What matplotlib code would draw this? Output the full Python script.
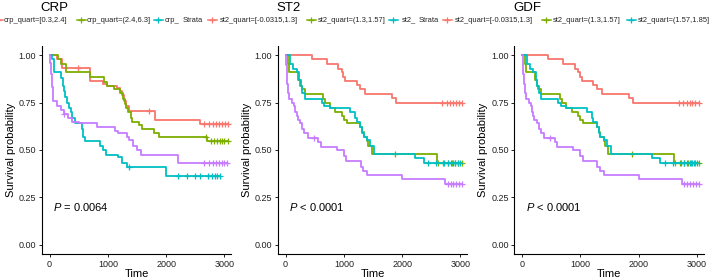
import numpy as np
import matplotlib.pyplot as plt
from matplotlib.lines import Line2D

plt.rcParams['font.family'] = ['Liberation Sans', 'DejaVu Sans']
plt.rcParams['mathtext.fontset'] = 'custom'
plt.rcParams['mathtext.it'] = 'Liberation Sans:italic'
plt.rcParams['mathtext.rm'] = 'Liberation Sans'

RED, GREEN, CYAN, PURPLE = '#F8766D', '#7CAE00', '#00BFC4', '#C77CFF'
W, H = 709, 280

# ---- CRP panel ----
crp_red_t = [0, 130, 210, 690, 920, 980, 1150, 1210, 1250, 1280, 1310, 1360, 1800, 2580]
crp_red_s = [1.0, 0.98, 0.935, 0.865, 0.85, 0.84, 0.825, 0.81, 0.79, 0.76, 0.73, 0.705, 0.66, 0.637]
crp_red_c = [495, 1700, 2640, 2730, 2800, 2860, 2910, 2960, 3010, 3060]

crp_green_t = [0, 150, 200, 280, 700, 930, 980, 1100, 1200, 1260, 1290, 1310, 1340,
               1390, 1420, 1530, 1580, 1790, 1880, 2700]
crp_green_s = [1.0, 0.98, 0.955, 0.91, 0.885, 0.86, 0.84, 0.82, 0.80, 0.77, 0.74, 0.72, 0.70,
               0.67, 0.65, 0.63, 0.61, 0.59, 0.57, 0.547]
crp_green_c = [2680, 2760, 2820, 2870, 2920, 2960, 3000, 3060]

crp_cyan_t = [0, 40, 70, 190, 230, 250, 270, 300, 330, 360, 390, 430, 560, 580, 610,
              870, 920, 970, 1180, 1250, 1330, 1990]
crp_cyan_s = [1.0, 0.98, 0.91, 0.88, 0.84, 0.81, 0.78, 0.75, 0.72, 0.70, 0.67, 0.64, 0.61,
              0.57, 0.545, 0.52, 0.50, 0.475, 0.46, 0.43, 0.41, 0.362]
crp_cyan_c = [1370, 2200, 2350, 2500, 2580, 2720, 2780, 2830, 2880, 2930]

crp_purple_t = [0, 15, 30, 45, 60, 130, 200, 240, 310, 380, 500, 820, 1130, 1180, 1320,
                1370, 1430, 1500, 1570, 2200]
crp_purple_s = [1.0, 0.96, 0.90, 0.83, 0.76, 0.73, 0.71, 0.69, 0.67, 0.65, 0.64, 0.62, 0.60,
                0.59, 0.57, 0.55, 0.52, 0.50, 0.475, 0.43]
crp_purple_c = [250, 2650, 2740, 2800, 2860, 2900, 2950, 3000, 3050]

# ---- ST2 panel (GDF panel shows the same curves) ----
st2_red_t = [0, 447, 705, 906, 964, 990, 1020, 1220, 1280, 1365, 1825, 1900]
st2_red_s = [1.0, 0.98, 0.955, 0.93, 0.91, 0.885, 0.865, 0.845, 0.82, 0.795, 0.775, 0.75]
st2_red_c = [2690, 2760, 2820, 2870, 2920, 2970, 3030]

st2_green_t = [0, 46, 63, 218, 250, 275, 330, 360, 650, 680, 760, 850, 965, 1000, 1050,
               1280, 1310, 1340, 1395, 1420, 1480, 2600]
st2_green_s = [1.0, 0.955, 0.91, 0.87, 0.84, 0.82, 0.795, 0.795, 0.77, 0.75, 0.72, 0.70,
               0.68, 0.66, 0.64, 0.62, 0.595, 0.57, 0.545, 0.52, 0.48, 0.43]
st2_green_c = [1880, 2620, 2700, 2780, 2850, 2900, 2960, 3030]

st2_cyan_t = [0, 75, 130, 190, 235, 260, 290, 330, 620, 665, 760, 1110, 1190, 1220, 1280,
              1310, 1340, 1395, 1450, 1525, 2225, 2370]
st2_cyan_s = [1.0, 0.955, 0.93, 0.91, 0.87, 0.84, 0.80, 0.77, 0.75, 0.73, 0.72, 0.70, 0.67,
              0.65, 0.62, 0.59, 0.57, 0.55, 0.52, 0.48, 0.455, 0.43]
st2_cyan_c = [2450, 2580, 2720, 2780, 2830, 2870, 2910, 2950, 3000]

st2_purple_t = [0, 10, 20, 30, 45, 60, 110, 150, 160, 190, 210, 250, 290, 320, 380, 560,
                600, 880, 1000, 1040, 1290, 1330, 1400, 2000, 2740]
st2_purple_s = [1.0, 0.95, 0.90, 0.85, 0.80, 0.77, 0.75, 0.73, 0.70, 0.68, 0.66, 0.64, 0.61,
                0.59, 0.565, 0.54, 0.515, 0.50, 0.47, 0.44, 0.41, 0.39, 0.37, 0.345, 0.32]
st2_purple_c = [480, 2780, 2830, 2880, 2930, 2980, 3030]

panel_titles = ['CRP', 'ST2', 'GDF']
p_labels = ['$P$ = 0.0064', '$P$ < 0.0001', '$P$ < 0.0001']

crp_curves = [(crp_red_t, crp_red_s, crp_red_c, RED),
              (crp_green_t, crp_green_s, crp_green_c, GREEN),
              (crp_cyan_t, crp_cyan_s, crp_cyan_c, CYAN),
              (crp_purple_t, crp_purple_s, crp_purple_c, PURPLE)]
st2_curves = [(st2_red_t, st2_red_s, st2_red_c, RED),
              (st2_green_t, st2_green_s, st2_green_c, GREEN),
              (st2_cyan_t, st2_cyan_s, st2_cyan_c, CYAN),
              (st2_purple_t, st2_purple_s, st2_purple_c, PURPLE)]
panel_curves = [crp_curves, st2_curves, st2_curves]

# legend strip along the top (pixel x of marker centre, text x, colour, text)
legend_keys = [(-2, 4, RED, 'crp_quart=[0.3,2.4]'),
               (81, 87, GREEN, 'crp_quart=(2.4,6.3]'),
               (158, 165, CYAN, 'crp_'),
               (None, 183, None, 'Strata'),
               (212, 220, RED, 'st2_quart=[-0.0315,1.3]'),
               (311, 318, GREEN, 'st2_quart=(1.3,1.57]'),
               (393, 402, CYAN, 'st2_'),
               (None, 419, None, 'Strata'),
               (447, 455, RED, 'st2_quart=[-0.0315,1.3]'),
               (546, 553, GREEN, 'st2_quart=(1.3,1.57]'),
               (631, 638, CYAN, 'st2_quart=(1.57,1.85]')]

fig = plt.figure(figsize=(W / 100, H / 100), dpi=100)

ax_left_px = [41.7, 277.7, 514.3]
ax_w_px = 189.5
ax_bottom = 26 / H
ax_h = (254 - 45.8) / H

for i in range(3):
    ax = fig.add_axes([ax_left_px[i] / W, ax_bottom, ax_w_px / W, ax_h])
    for t, s, c, col in panel_curves[i]:
        t = np.array(t, float)
        s = np.array(s, float)
        end = max(c[-1], t[-1])
        ax.step(np.append(t, end), np.append(s, s[-1]), where='post', color=col, lw=1.3)
        idx = np.searchsorted(t, c, side='right') - 1
        ax.plot(c, s[idx], ls='none', marker='+', ms=4, mew=0.9, color=col)
    ax.set_xlim(-135, 3115)
    ax.set_ylim(-0.05, 1.05)
    ax.set_xticks([0, 1000, 2000, 3000])
    ax.set_yticks([0, 0.25, 0.5, 0.75, 1.0])
    ax.set_yticklabels(['0.00', '0.25', '0.50', '0.75', '1.00'])
    ax.tick_params(labelsize=6.5, length=2.5, width=0.7, pad=1.5, colors='#222222')
    for sp in ['top', 'right']:
        ax.spines[sp].set_visible(False)
    for sp in ['left', 'bottom']:
        ax.spines[sp].set_linewidth(0.8)
    ax.set_xlabel('Time', fontsize=8, labelpad=0)
    ax.set_ylabel('Survival probability', fontsize=8, labelpad=2)
    ax.text(60, 0.20, p_labels[i], fontsize=8, va='center', ha='left')
    fig.text((ax_left_px[i] - 1) / W, 1 - 2 / H, panel_titles[i], fontsize=9.5,
             ha='left', va='top')

ly = 1 - 20 / H
for mx, tx, col, lab in legend_keys:
    if mx is not None:
        fig.add_artist(Line2D([(mx - 4.5) / W, (mx + 4.5) / W], [ly, ly], color=col, lw=1.1,
                              transform=fig.transFigure))
        fig.add_artist(Line2D([mx / W], [ly], color=col, marker='+', ms=4, mew=0.9,
                              transform=fig.transFigure))
    fig.text(tx / W, ly, lab, fontsize=5.4, ha='left', va='center', color='#222222')

fig.savefig('out.png', dpi=100)
